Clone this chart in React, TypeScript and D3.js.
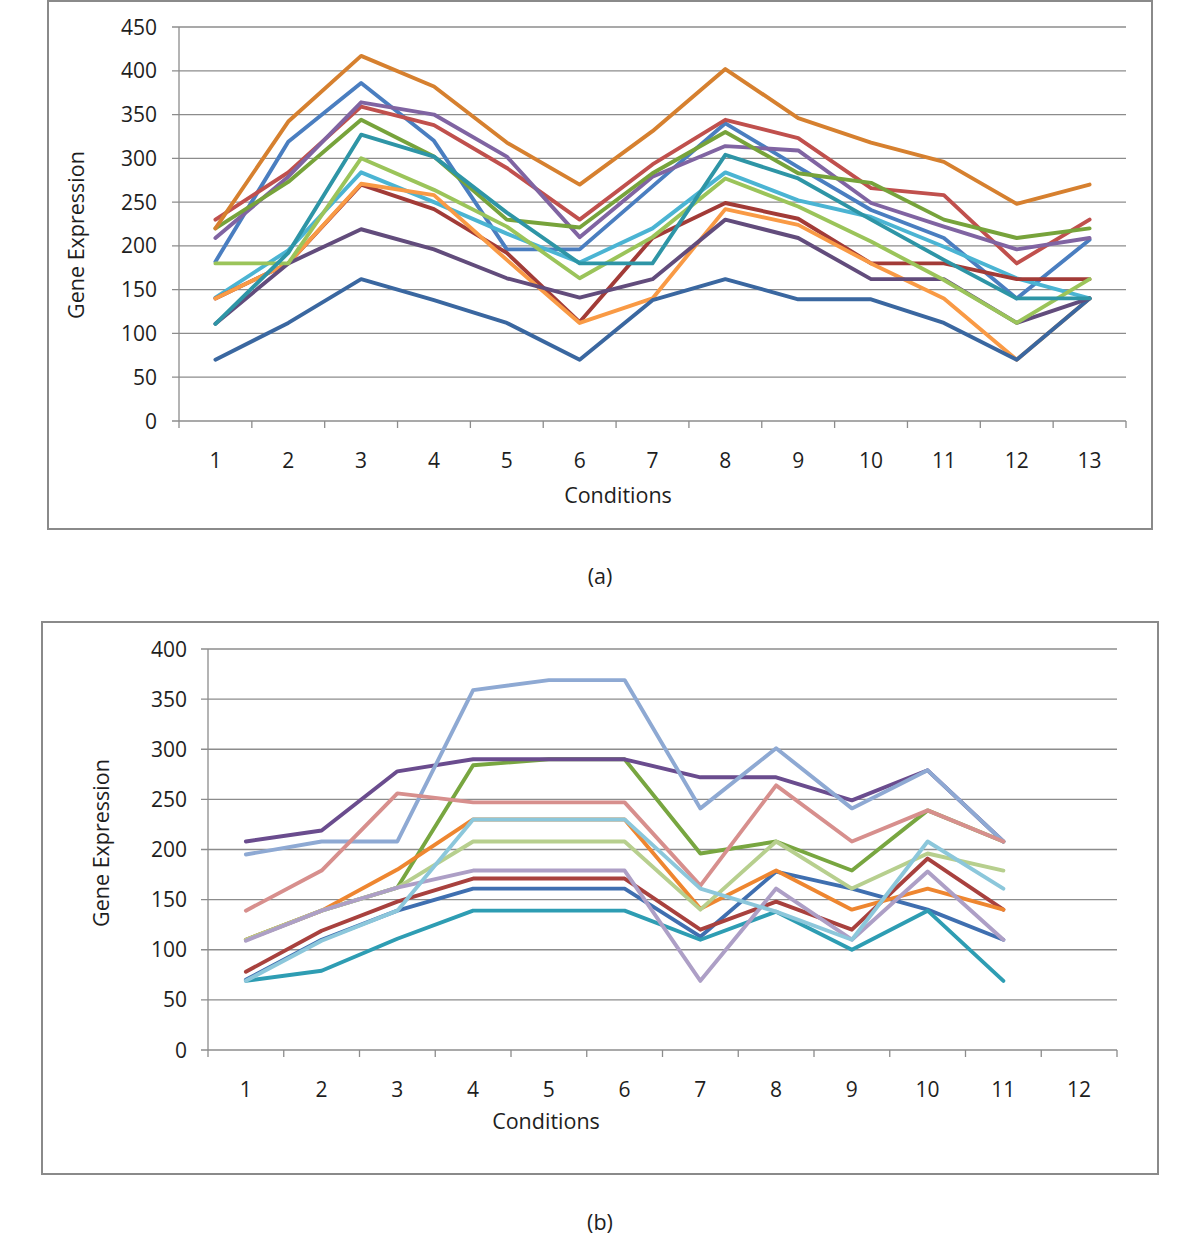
import React, { useEffect } from "react";
import * as d3 from "d3";

// ---------- Chart (a) data ----------
const conditionsA = ["1", "2", "3", "4", "5", "6", "7", "8", "9", "10", "11", "12", "13"];
const yTicksA = [0, 50, 100, 150, 200, 250, 300, 350, 400, 450];

const aBlue = [182, 319, 386, 320, 196, 196, 268, 340, 290, 241, 209, 140, 207];
const aRed = [230, 284, 359, 338, 289, 230, 293, 344, 323, 266, 258, 180, 230];
const aLightGreen = [180, 180, 300, 264, 222, 163, 210, 277, 245, 205, 161, 112, 162];
const aPurple = [209, 279, 364, 350, 302, 210, 279, 314, 309, 249, 222, 196, 209];
const aCyan = [141, 195, 284, 250, 214, 181, 220, 284, 252, 233, 199, 163, 140];
const aDarkRed = [140, 180, 270, 242, 192, 113, 209, 249, 231, 180, 180, 162, 162];
const aOrange = [140, 180, 271, 258, 184, 112, 140, 242, 224, 180, 140, 70, 140];
const aDarkBlue = [70, 112, 162, 138, 112, 70, 138, 162, 139, 139, 112, 70, 140];
const aOlive = [220, 273, 344, 302, 230, 221, 283, 330, 283, 272, 230, 209, 220];
const aDarkPurple = [111, 180, 219, 196, 163, 141, 162, 230, 209, 162, 162, 112, 140];
const aTeal = [111, 192, 327, 302, 238, 180, 180, 304, 277, 230, 184, 140, 140];
const aDarkOrange = [220, 342, 417, 382, 318, 270, 331, 402, 346, 318, 296, 248, 270];

const seriesA = [aBlue, aRed, aPurple, aCyan, aDarkRed, aOrange, aDarkBlue, aOlive, aDarkPurple, aLightGreen, aTeal, aDarkOrange];
const colorsA = ["#4A7EC0", "#C0504D", "#8064A2", "#4BB4D3", "#A23B37", "#F99A45", "#3A67A0", "#77A33B", "#624C7C", "#9BC45A", "#2E95A6", "#D6802F"];

// ---------- Chart (b) data ----------
const conditionsB = ["1", "2", "3", "4", "5", "6", "7", "8", "9", "10", "11", "12"];
const yTicksB = [0, 50, 100, 150, 200, 250, 300, 350, 400];

const bBlue = [70, 110, 139, 161, 161, 161, 113, 178, 161, 140, 110];
const bDarkRed = [78, 119, 148, 171, 171, 171, 120, 148, 120, 191, 140];
const bGreen = [110, 139, 162, 284, 290, 290, 196, 208, 179, 239, 208];
const bPurple = [208, 219, 278, 290, 290, 290, 272, 272, 249, 279, 208];
const bTeal = [69, 79, 111, 139, 139, 139, 110, 138, 100, 139, 69];
const bOrange = [110, 139, 180, 230, 230, 230, 141, 179, 140, 161, 140];
const bLightBlue = [195, 208, 208, 359, 369, 369, 241, 301, 241, 279, 208];
const bPink = [139, 179, 256, 247, 247, 247, 164, 264, 208, 239, 208];
const bLightGreen = [110, 139, 162, 208, 208, 208, 140, 208, 161, 196, 179];
const bLavender = [109, 139, 162, 179, 179, 179, 69, 161, 110, 178, 110];
const bLightCyan = [69, 109, 139, 230, 230, 230, 161, 138, 110, 208, 161];

const seriesB = [bBlue, bDarkRed, bGreen, bPurple, bTeal, bOrange, bLightBlue, bPink, bLightGreen, bLavender, bLightCyan];
const colorsB = ["#3F6FB0", "#A8413E", "#78A640", "#6A4C8E", "#2E9DB3", "#EE8630", "#8EA9D3", "#D78F8D", "#B7CF8E", "#AD9FC6", "#8CC7DB"];

const FONT = "'Open Sans', 'DejaVu Sans', sans-serif";
const TEXT = "#1E1E1E";
const GRID = "#8C8C8C";

type ChartProps = {
  frame: { x0: number; y0: number; x1: number; y1: number };
  plot: { left: number; right: number; top: number; bottom: number };
  categories: string[];
  yTicks: number[];
  series: number[][];
  colors: string[];
  xTitle: { x: number; y: number };
  yTitle: { x: number; y: number };
  tickLabelX: number;
  catLabelY: number;
  caption: { text: string; x: number; y: number };
};

function LineChart(p: ChartProps) {
  const x = d3.scaleBand<string>().domain(p.categories).range([p.plot.left, p.plot.right]).padding(0);
  const yMax = p.yTicks[p.yTicks.length - 1];
  const y = d3.scaleLinear().domain([0, yMax]).range([p.plot.bottom, p.plot.top]);
  const cx = (i: number) => (x(p.categories[i]) as number) + x.bandwidth() / 2;
  const line = d3
    .line<number>()
    .x((_, i) => cx(i))
    .y((d) => y(d));
  const boundaries = p.categories.map((c) => x(c) as number).concat([p.plot.right]);

  return (
    <g>
      <rect
        x={p.frame.x0}
        y={p.frame.y0}
        width={p.frame.x1 - p.frame.x0}
        height={p.frame.y1 - p.frame.y0}
        fill="#fff"
        stroke="#8A8A8A"
        strokeWidth={2}
      />
      {p.yTicks.map((t) => (
        <line key={"g" + t} x1={p.plot.left - 7} x2={p.plot.right} y1={y(t)} y2={y(t)} stroke={GRID} strokeWidth={1.3} />
      ))}
      <line x1={p.plot.left} x2={p.plot.left} y1={p.plot.top} y2={p.plot.bottom} stroke={GRID} strokeWidth={1.3} />
      {boundaries.map((b, i) => (
        <line key={"t" + i} x1={b} x2={b} y1={p.plot.bottom} y2={p.plot.bottom + 7} stroke={GRID} strokeWidth={1.3} />
      ))}
      {p.yTicks.map((t) => (
        <text
          key={"yl" + t}
          x={p.tickLabelX}
          y={y(t)}
          dy="0.36em"
          textAnchor="end"
          fontFamily={FONT}
          fontSize={21}
          fill={TEXT}
        >
          {t}
        </text>
      ))}
      {p.categories.map((c, i) => (
        <text
          key={"xl" + c}
          x={cx(i)}
          y={p.catLabelY}
          dy="0.36em"
          textAnchor="middle"
          fontFamily={FONT}
          fontSize={21}
          fill={TEXT}
        >
          {c}
        </text>
      ))}
      {p.series.map((s, i) => (
        <path
          key={"s" + i}
          d={line(s) as string}
          fill="none"
          stroke={p.colors[i]}
          strokeWidth={3.9}
          strokeLinejoin="round"
          strokeLinecap="round"
        />
      ))}
      <text
        x={p.xTitle.x}
        y={p.xTitle.y}
        dy="0.36em"
        textAnchor="middle"
        fontFamily={FONT}
        fontSize={21.5}
        fill={TEXT}
      >
        Conditions
      </text>
      <text
        transform={`translate(${p.yTitle.x},${p.yTitle.y}) rotate(-90)`}
        dy="0.36em"
        textAnchor="middle"
        fontFamily={FONT}
        fontSize={21.5}
        fill={TEXT}
      >
        Gene Expression
      </text>
      <text
        x={p.caption.x}
        y={p.caption.y}
        dy="0.36em"
        textAnchor="middle"
        fontFamily={FONT}
        fontSize={21.5}
        fill={TEXT}
      >
        {p.caption.text}
      </text>
    </g>
  );
}

export default function App() {
  useEffect(() => {
    document.body.style.margin = "0";
  }, []);
  return (
    <svg width={1200} height={1255} viewBox="0 0 1200 1255" style={{ display: "block", background: "#fff" }}>
      <rect x={0} y={0} width={1200} height={1255} fill="#fff" />
      <LineChart
        frame={{ x0: 48, y0: 1, x1: 1152, y1: 529 }}
        plot={{ left: 179, right: 1126, top: 27, bottom: 421 }}
        categories={conditionsA}
        yTicks={yTicksA}
        series={seriesA}
        colors={colorsA}
        xTitle={{ x: 618, y: 495 }}
        yTitle={{ x: 76, y: 235 }}
        tickLabelX={157}
        catLabelY={460}
        caption={{ text: "(a)", x: 600, y: 576 }}
      />
      <LineChart
        frame={{ x0: 42, y0: 622, x1: 1158, y1: 1174 }}
        plot={{ left: 208, right: 1117, top: 649, bottom: 1050 }}
        categories={conditionsB}
        yTicks={yTicksB}
        series={seriesB}
        colors={colorsB}
        xTitle={{ x: 546, y: 1121 }}
        yTitle={{ x: 101, y: 843 }}
        tickLabelX={187}
        catLabelY={1089}
        caption={{ text: "(b)", x: 600, y: 1222 }}
      />
    </svg>
  );
}
